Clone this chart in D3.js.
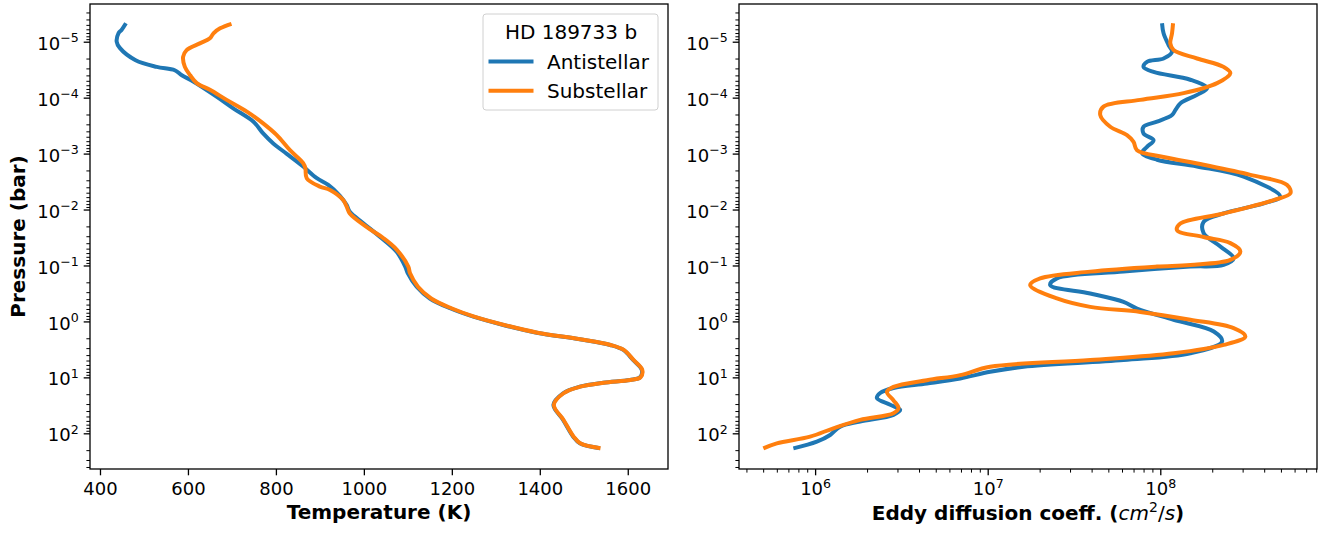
<!DOCTYPE html>
<html>
<head>
<meta charset="utf-8">
<script src="https://cdn.jsdelivr.net/npm/d3@7"></script>
<style>
body { margin: 0; background: #fff; }
text { font-family: "DejaVu Sans", sans-serif; fill: #000; }
</style>
</head>
<body>
<div id="chart"></div>
<script>
// Temperature profiles: log10(P / bar) and T (K)
var antiTLogP = [-5.33, -5.21, -5.15, -5.00, -4.89, -4.67, -4.55, -4.49, -4.40, -4.29, -4.02, -3.81, -3.57, -3.36, -3.18, -3.00, -2.77, -2.56, -2.44, -2.25, -2.08, -1.96, -1.76, -1.51, -1.24, -0.98, -0.86, -0.62, -0.41, -0.235, -0.085, 0.063, 0.201, 0.319, 0.421, 0.51, 0.689, 0.868, 0.998, 1.046, 1.095, 1.166, 1.284, 1.493, 1.761, 2.06, 2.178, 2.267];
var antiT = [459, 449, 442, 438, 445, 481, 529, 570, 586, 612, 665, 703, 749, 771, 794, 824, 862, 893, 919, 945, 961, 968, 998, 1037, 1075, 1094, 1100, 1120, 1150, 1196, 1249, 1317, 1393, 1491, 1560, 1590, 1612, 1632, 1628, 1605, 1544, 1491, 1453, 1431, 1453, 1476, 1491, 1537];

var subTLogP = [-5.32, -5.24, -5.15, -5.06, -4.97, -4.85, -4.73, -4.55, -4.40, -4.26, -4.14, -3.96, -3.75, -3.54, -3.33, -3.06, -2.83, -2.74, -2.56, -2.41, -2.35, -2.17, -2.05, -1.93, -1.69, -1.49, -1.28, -0.98, -0.86, -0.62, -0.41, -0.235, -0.085, 0.063, 0.201, 0.319, 0.421, 0.51, 0.689, 0.868, 0.998, 1.046, 1.095, 1.166, 1.284, 1.493, 1.761, 2.06, 2.178, 2.267];
var subT = [699, 673, 658, 650, 627, 597, 589, 593, 605, 620, 650, 688, 734, 771, 802, 832, 862, 867, 870, 900, 923, 953, 961, 968, 1006, 1044, 1075, 1101, 1105, 1123, 1153, 1199, 1251, 1319, 1395, 1492, 1561, 1591, 1613, 1633, 1629, 1606, 1545, 1492, 1454, 1432, 1454, 1477, 1492, 1538];

// Eddy diffusion profiles: log10(P / bar) and log10(Kzz / cm2 s-1)
var antiKLogP = [-5.33, -5.15, -4.94, -4.82, -4.70, -4.64, -4.55, -4.46, -4.32, -4.17, -4.05, -3.90, -3.78, -3.69, -3.57, -3.48, -3.36, -3.24, -3.12, -3.01, -2.89, -2.77, -2.59, -2.23, -2.11, -1.93, -1.78, -1.58, -1.34, -1.13, -1.01, -0.98, -0.89, -0.77, -0.65, -0.50, -0.35, -0.23, -0.03, 0.18, 0.36, 0.57, 0.69, 0.81, 0.90, 1.02, 1.11, 1.19, 1.28, 1.37, 1.49, 1.58, 1.67, 1.79, 1.88, 2.03, 2.15, 2.27];
var antiLogK = [8.010, 8.019, 8.048, 8.068, 8.019, 7.923, 7.903, 7.961, 8.174, 8.271, 8.213, 8.117, 8.088, 8.068, 7.981, 7.903, 7.903, 7.961, 7.923, 7.894, 7.981, 8.213, 8.483, 8.696, 8.599, 8.367, 8.251, 8.251, 8.348, 8.425, 8.367, 8.174, 7.787, 7.401, 7.362, 7.594, 7.787, 7.865, 8.077, 8.310, 8.358, 8.174, 7.787, 7.208, 7.014, 6.841, 6.648, 6.454, 6.377, 6.358, 6.435, 6.493, 6.454, 6.261, 6.145, 6.087, 6.010, 5.874];

var subKLogP = [-5.33, -5.15, -4.97, -4.85, -4.70, -4.55, -4.44, -4.26, -4.08, -3.96, -3.84, -3.69, -3.48, -3.33, -3.21, -3.06, -2.94, -2.80, -2.62, -2.44, -2.29, -2.17, -1.93, -1.75, -1.63, -1.51, -1.40, -1.25, -1.10, -1.01, -0.98, -0.89, -0.77, -0.65, -0.41, -0.26, -0.17, -0.03, 0.12, 0.27, 0.42, 0.57, 0.69, 0.81, 0.96, 1.05, 1.17, 1.26, 1.41, 1.55, 1.64, 1.76, 1.91, 2.06, 2.18, 2.27];
var subLogK = [8.074, 8.068, 8.058, 8.077, 8.213, 8.367, 8.406, 8.329, 8.135, 7.884, 7.671, 7.652, 7.710, 7.807, 7.845, 7.865, 8.019, 8.251, 8.522, 8.735, 8.754, 8.657, 8.367, 8.116, 8.097, 8.251, 8.406, 8.464, 8.406, 8.174, 7.981, 7.594, 7.304, 7.246, 7.401, 7.594, 7.884, 8.174, 8.425, 8.493, 8.367, 8.077, 7.594, 7.014, 6.841, 6.648, 6.454, 6.416, 6.454, 6.483, 6.454, 6.261, 6.106, 5.971, 5.778, 5.700];

var seriesNames = ["Antistellar", "Substellar"];
var colors = ["#1f77b4", "#ff7f0e"];
var legendTitle = "HD 189733 b";
var tempTicks = [400, 600, 800, 1000, 1200, 1400, 1600];
var pressureExps = [-5, -4, -3, -2, -1, 0, 1, 2];
var eddyExps = [6, 7, 8];

var W = 1328, H = 534;
var plotTop = 4, plotBottom = 469;
var left1 = 90, right1 = 668;
var left2 = 739, right2 = 1317;

var svg = d3.select("#chart")
    .append("svg")
    .attr("width", W)
    .attr("height", H)
    .style("background", "#fff");

var y = d3.scaleLog().domain([Math.pow(10, -5.674), Math.pow(10, 2.638)]).range([plotTop, plotBottom]);
var xT = d3.scaleLinear().domain([377.3, 1691.5]).range([left1, right1]);
var xK = d3.scaleLog().domain([Math.pow(10, 5.559), Math.pow(10, 8.908)]).range([left2, right2]);

function zip(a, b) {
    return a.map(function(v, i) { return { p: Math.pow(10, v), x: b[i] }; });
}

function minorTicks(dom) {
    var lo = Math.min(dom[0], dom[1]), hi = Math.max(dom[0], dom[1]);
    var out = [];
    for (var e = Math.floor(Math.log10(lo)); e <= Math.ceil(Math.log10(hi)); e++) {
        for (var m = 2; m <= 9; m++) {
            var v = m * Math.pow(10, e);
            if (v >= lo && v <= hi) out.push(v);
        }
    }
    return out;
}

function supLabel(textSel, e) {
    textSel.text("");
    textSel.append("tspan").text("10");
    textSel.append("tspan")
        .attr("dy", -7.5)
        .attr("font-size", 12.6)
        .text(e < 0 ? "\u2212" + (-e) : e);
}

function styleAxis(g) {
    g.select(".domain").remove();
    g.selectAll(".tick line").attr("stroke", "#000").attr("stroke-width", 1.3);
}

function drawYAxis(x0) {
    var gMinor = svg.append("g")
        .attr("transform", "translate(" + x0 + ",0)")
        .call(d3.axisLeft(y).tickValues(minorTicks(y.domain())).tickSize(3.6).tickFormat(""));
    styleAxis(gMinor);
    gMinor.selectAll(".tick line").attr("stroke-width", 1);

    var gMajor = svg.append("g")
        .attr("transform", "translate(" + x0 + ",0)")
        .call(d3.axisLeft(y).tickValues(pressureExps.map(function(e) { return Math.pow(10, e); })).tickSize(6.3).tickPadding(5));
    styleAxis(gMajor);
    gMajor.selectAll(".tick text")
        .attr("font-size", 18)
        .attr("font-family", "DejaVu Sans")
        .attr("dy", null)
        .attr("y", 7.6)
        .each(function(d) { supLabel(d3.select(this), Math.round(Math.log10(d))); });
}

function frame(x0, x1) {
    svg.append("rect")
        .attr("x", x0).attr("y", plotTop)
        .attr("width", x1 - x0).attr("height", plotBottom - plotTop)
        .attr("fill", "none")
        .attr("stroke", "#000")
        .attr("stroke-width", 1.3);
}

var line1 = d3.line()
    .x(function(d) { return xT(d.x); })
    .y(function(d) { return y(d.p); })
    .curve(d3.curveCatmullRom.alpha(0.5));

var line2 = d3.line()
    .x(function(d) { return xK(Math.pow(10, d.x)); })
    .y(function(d) { return y(d.p); })
    .curve(d3.curveCatmullRom.alpha(0.5));

// ---- left panel: temperature
svg.append("clipPath").attr("id", "c1").append("rect")
    .attr("x", left1).attr("y", plotTop).attr("width", right1 - left1).attr("height", plotBottom - plotTop);

var tSeries = [zip(antiTLogP, antiT), zip(subTLogP, subT)];
svg.append("g").attr("clip-path", "url(#c1)")
    .selectAll("path")
    .data(tSeries)
    .enter().append("path")
    .attr("d", line1)
    .attr("fill", "none")
    .attr("stroke", function(d, i) { return colors[i]; })
    .attr("stroke-width", 4)
    .attr("stroke-linejoin", "round")
    .attr("stroke-linecap", "butt");

var gx1 = svg.append("g")
    .attr("transform", "translate(0," + plotBottom + ")")
    .call(d3.axisBottom(xT).tickValues(tempTicks).tickSize(6.3).tickPadding(5).tickFormat(d3.format("d")));
styleAxis(gx1);
gx1.selectAll(".tick text").attr("font-size", 18).attr("font-family", "DejaVu Sans").attr("dy", null).attr("y", 26);

drawYAxis(left1);
frame(left1, right1);

svg.append("text")
    .attr("x", (left1 + right1) / 2)
    .attr("y", 519)
    .attr("text-anchor", "middle")
    .attr("font-size", 20)
    .attr("font-weight", "bold")
    .text("Temperature (K)");

svg.append("text")
    .attr("transform", "translate(25," + ((plotTop + plotBottom) / 2) + ")rotate(-90)")
    .attr("text-anchor", "middle")
    .attr("font-size", 20)
    .attr("font-weight", "bold")
    .text("Pressure (bar)");

// legend
var lg = svg.append("g").attr("transform", "translate(483,14)");
lg.append("rect")
    .attr("x", 0).attr("y", 0)
    .attr("width", 175).attr("height", 96)
    .attr("rx", 3)
    .attr("fill", "#fff")
    .attr("fill-opacity", 0.8)
    .attr("stroke", "#d0d0d0")
    .attr("stroke-width", 1);
lg.append("text")
    .attr("x", 88).attr("y", 24.5)
    .attr("text-anchor", "middle")
    .attr("font-size", 20)
    .text(legendTitle);
var items = lg.selectAll(".item")
    .data(seriesNames)
    .enter().append("g")
    .attr("class", "item")
    .attr("transform", function(d, i) { return "translate(0," + (47.5 + i * 29.3) + ")"; });
items.append("line")
    .attr("x1", 5.5).attr("x2", 50.5)
    .attr("stroke", function(d, i) { return colors[i]; })
    .attr("stroke-width", 4);
items.append("text")
    .attr("x", 64)
    .attr("y", 7)
    .attr("font-size", 20)
    .text(function(d) { return d; });

// ---- right panel: eddy diffusion
svg.append("clipPath").attr("id", "c2").append("rect")
    .attr("x", left2).attr("y", plotTop).attr("width", right2 - left2).attr("height", plotBottom - plotTop);

var kSeries = [zip(antiKLogP, antiLogK), zip(subKLogP, subLogK)];
svg.append("g").attr("clip-path", "url(#c2)")
    .selectAll("path")
    .data(kSeries)
    .enter().append("path")
    .attr("d", line2)
    .attr("fill", "none")
    .attr("stroke", function(d, i) { return colors[i]; })
    .attr("stroke-width", 4)
    .attr("stroke-linejoin", "round")
    .attr("stroke-linecap", "butt");

var gx2m = svg.append("g")
    .attr("transform", "translate(0," + plotBottom + ")")
    .call(d3.axisBottom(xK).tickValues(minorTicks(xK.domain())).tickSize(3.6).tickFormat(""));
styleAxis(gx2m);
gx2m.selectAll(".tick line").attr("stroke-width", 1);

var gx2 = svg.append("g")
    .attr("transform", "translate(0," + plotBottom + ")")
    .call(d3.axisBottom(xK).tickValues(eddyExps.map(function(e) { return Math.pow(10, e); })).tickSize(6.3));
styleAxis(gx2);
gx2.selectAll(".tick text")
    .attr("font-size", 18)
    .attr("font-family", "DejaVu Sans")
    .attr("dy", null)
    .attr("y", 26)
    .each(function(d) { supLabel(d3.select(this), Math.round(Math.log10(d))); });

drawYAxis(left2);
frame(left2, right2);

var xl2 = svg.append("text")
    .attr("x", (left2 + right2) / 2)
    .attr("y", 520)
    .attr("text-anchor", "middle")
    .attr("font-size", 20);
xl2.append("tspan").attr("font-weight", "bold").text("Eddy diffusion coeff. (");
xl2.append("tspan").attr("font-style", "italic").text("cm");
xl2.append("tspan").attr("font-size", 14).attr("dy", -8).text("2");
xl2.append("tspan").attr("dy", 8).text("/");
xl2.append("tspan").attr("font-style", "italic").text("s");
xl2.append("tspan").attr("font-weight", "bold").text(")");
</script>
</body>
</html>
